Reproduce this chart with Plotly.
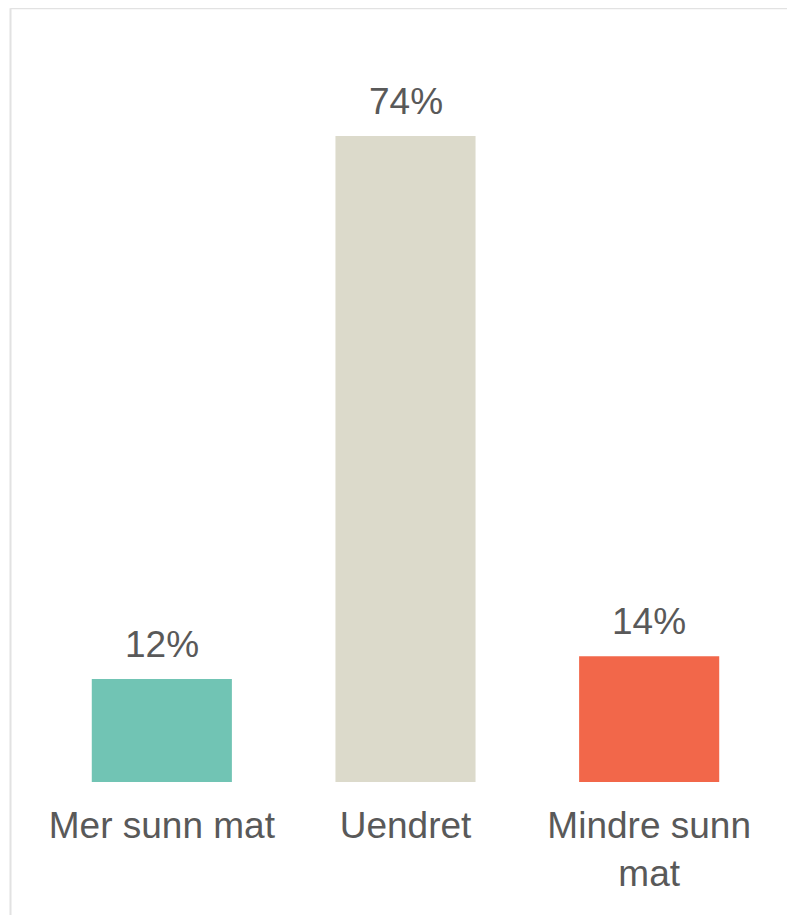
import plotly.graph_objects as go

categories = ["Mer sunn mat", "Uendret", "Mindre sunn<br>mat"]
values = [11.8, 74.0, 14.4]
labels = ["12%", "74%", "14%"]
colors = ["#71C4B4", "#DCDACB", "#F2674A"]

W, H = 795, 915
L, R, T, B = 32, 32, 12, 141
plot_w = W - L - R
plot_h = H - T - B
ymax = plot_h / 8.73
FONT = "Liberation Sans, Arial"
TXT = "#595959"

fig = go.Figure(go.Bar(
    x=categories, y=values,
    marker=dict(color=colors, line=dict(width=0)),
    width=0.575,
    hoverinfo="skip",
))

for c, v, t in zip(categories, values, labels):
    fig.add_annotation(x=c, y=v, text=t, showarrow=False,
                       xanchor="center", yanchor="bottom", yshift=12,
                       font=dict(size=37, color=TXT, family=FONT))

def px_x(p):
    return (p - L) / plot_w

def px_y(p):
    return (H - B - p) / plot_h

fig.add_shape(type="line", xref="paper", yref="paper",
              x0=px_x(2.5), x1=px_x(820), y0=px_y(0.3), y1=px_y(0.3),
              line=dict(color="#E2E2E2", width=2))
fig.add_shape(type="line", xref="paper", yref="paper",
              x0=px_x(2.5), x1=px_x(2.5), y0=px_y(0.3), y1=px_y(940),
              line=dict(color="#E2E2E2", width=2))

fig.update_layout(
    width=W, height=H,
    margin=dict(l=L, r=R, t=T, b=B),
    paper_bgcolor="white", plot_bgcolor="white",
    showlegend=False,
    font=dict(family=FONT, color=TXT, size=37),
    xaxis=dict(showgrid=False, showline=False, ticks="", range=[-0.5, 2.5],
               tickfont=dict(size=37, color=TXT), ticklabelstandoff=18),
    yaxis=dict(visible=False, range=[0, ymax]),
)

fig.write_html("out.html")
